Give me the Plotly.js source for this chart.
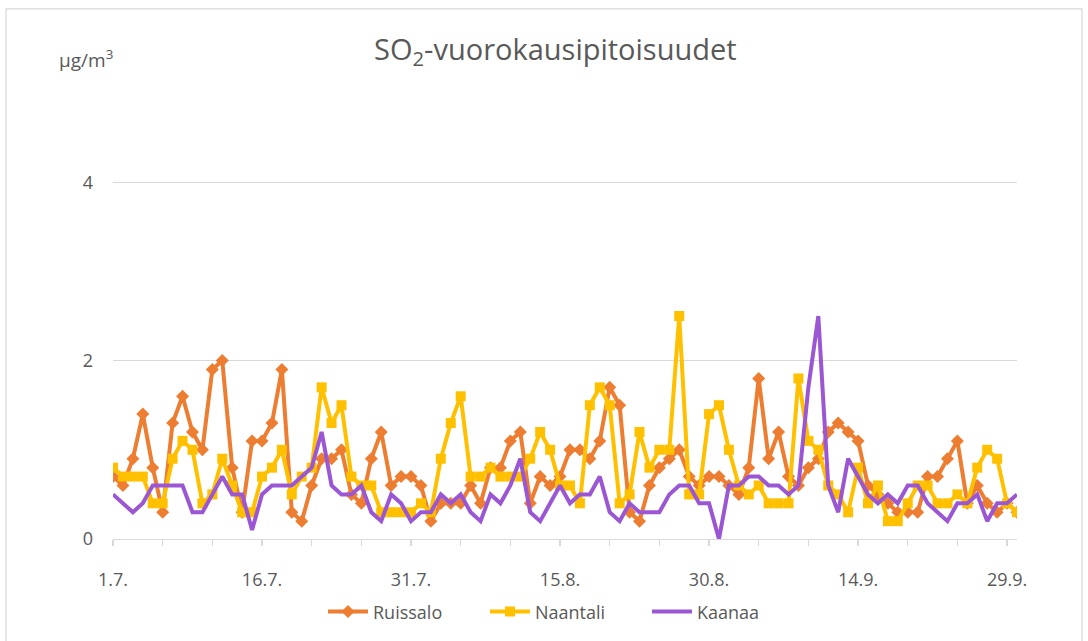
<!DOCTYPE html>
<html>
<head>
<meta charset="utf-8">
<script src="https://cdn.plot.ly/plotly-3.0.1.min.js"></script>
<style>html,body{margin:0;padding:0;background:#fff;}#chart{width:1088px;height:641px;}</style>
</head>
<body>
<div id="chart"></div>
<script>
// Daily dates 1.7. – 30.9.
const nDays = 92;
const dates = [];
for (let i = 0; i < nDays; i++) {
  const d = new Date(Date.UTC(2023, 6, 1 + i));
  dates.push(d.toISOString().slice(0, 10));
}

const seriesNames = ['Ruissalo', 'Naantali', 'Kaanaa'];

const ruissalo = [
  0.7, 0.6, 0.9, 1.4, 0.8, 0.3, 1.3, 1.6, 1.2, 1.0,
  1.9, 2.0, 0.8, 0.3, 1.1, 1.1, 1.3, 1.9, 0.3, 0.2,
  0.6, 0.9, 0.9, 1.0, 0.5, 0.4, 0.9, 1.2, 0.6, 0.7,
  0.7, 0.6, 0.2, 0.4, 0.4, 0.4, 0.6, 0.4, 0.8, 0.8,
  1.1, 1.2, 0.4, 0.7, 0.6, 0.7, 1.0, 1.0, 0.9, 1.1,
  1.7, 1.5, 0.3, 0.2, 0.6, 0.8, 0.9, 1.0, 0.7, 0.6,
  0.7, 0.7, 0.6, 0.5, 0.8, 1.8, 0.9, 1.2, 0.7, 0.6,
  0.8, 0.9, 1.2, 1.3, 1.2, 1.1, 0.6, 0.5, 0.4, 0.3,
  0.3, 0.3, 0.7, 0.7, 0.9, 1.1, 0.4, 0.6, 0.4, 0.3,
  0.4, 0.3
];

const naantali = [
  0.8, 0.7, 0.7, 0.7, 0.4, 0.4, 0.9, 1.1, 1.0, 0.4,
  0.5, 0.9, 0.6, 0.3, 0.3, 0.7, 0.8, 1.0, 0.5, 0.7,
  0.8, 1.7, 1.3, 1.5, 0.7, 0.6, 0.6, 0.3, 0.3, 0.3,
  0.3, 0.4, 0.3, 0.9, 1.3, 1.6, 0.7, 0.7, 0.8, 0.7,
  0.7, 0.7, 0.9, 1.2, 1.0, 0.6, 0.6, 0.4, 1.5, 1.7,
  1.5, 0.4, 0.5, 1.2, 0.8, 1.0, 1.0, 2.5, 0.5, 0.5,
  1.4, 1.5, 1.0, 0.6, 0.5, 0.6, 0.4, 0.4, 0.4, 1.8,
  1.1, 1.0, 0.6, 0.5, 0.3, 0.8, 0.4, 0.6, 0.2, 0.2,
  0.4, 0.6, 0.6, 0.4, 0.4, 0.5, 0.4, 0.8, 1.0, 0.9,
  0.4, 0.3
];

const kaanaa = [
  0.5, 0.4, 0.3, 0.4, 0.6, 0.6, 0.6, 0.6, 0.3, 0.3,
  0.5, 0.7, 0.5, 0.5, 0.1, 0.5, 0.6, 0.6, 0.6, 0.7,
  0.8, 1.2, 0.6, 0.5, 0.5, 0.6, 0.3, 0.2, 0.5, 0.4,
  0.2, 0.3, 0.3, 0.5, 0.4, 0.5, 0.3, 0.2, 0.5, 0.4,
  0.6, 0.9, 0.3, 0.2, 0.4, 0.6, 0.4, 0.5, 0.5, 0.7,
  0.3, 0.2, 0.4, 0.3, 0.3, 0.3, 0.5, 0.6, 0.6, 0.4,
  0.4, 0.0, 0.6, 0.6, 0.7, 0.7, 0.6, 0.6, 0.5, 0.6,
  1.7, 2.5, 0.6, 0.3, 0.9, 0.7, 0.5, 0.4, 0.5, 0.4,
  0.6, 0.6, 0.4, 0.3, 0.2, 0.4, 0.4, 0.5, 0.2, 0.4,
  0.4, 0.5
];

const yTicks = [0, 2, 4];
const yTickText = ['0', '2', '4'];

const FONT = 'Open Sans, Lato, sans-serif';
const GREY = '#595959';
const DAY = 86400000;

const traces = [
  {
    x: dates, y: ruissalo, name: seriesNames[0], type: 'scatter', mode: 'lines+markers',
    line: {color: '#ED7D31', width: 4},
    marker: {symbol: 'diamond', size: 10, color: '#ED7D31'}
  },
  {
    x: dates, y: naantali, name: seriesNames[1], type: 'scatter', mode: 'lines+markers',
    line: {color: '#FFC000', width: 4},
    marker: {symbol: 'square', size: 10, color: '#FFC000'}
  },
  {
    x: dates, y: kaanaa, name: seriesNames[2], type: 'scatter', mode: 'lines',
    line: {color: '#9B57D3', width: 4}
  }
];

const plotL = 113, plotR = 1017, plotT = 92.5, plotB = 540;
const pw = plotR - plotL, ph = plotB - plotT;
const px = v => (v - plotL) / pw;
const py = v => (plotB - v) / ph;

const layout = {
  width: 1088, height: 641,
  margin: {l: plotL, r: 1088 - plotR, t: plotT, b: 641 - plotB, pad: 0},
  paper_bgcolor: '#ffffff', plot_bgcolor: '#ffffff',
  font: {family: FONT, color: GREY, size: 18},
  showlegend: true,
  legend: {
    orientation: 'h', x: px(566), xanchor: 'center', xref: 'paper',
    y: py(612), yanchor: 'middle',
    font: {family: FONT, size: 18, color: GREY},
    itemwidth: 40, tracegroupgap: 0,
    entrywidth: 107, entrywidthmode: 'pixels'
  },
  xaxis: {
    type: 'date',
    range: [dates[0], dates[dates.length - 1]],
    tick0: dates[0], dtick: 15 * DAY, tickformat: '%-d.%-m.',
    showgrid: false, zeroline: false,
    showline: true, linecolor: '#d9d9d9', linewidth: 1.3,
    ticks: 'outside', ticklen: 6, tickcolor: '#d9d9d9', tickwidth: 1.3,
    ticklabelstandoff: 18,
    tickfont: {family: FONT, size: 18, color: GREY},
    minor: {dtick: 5 * DAY, tick0: dates[0], ticks: 'outside', ticklen: 6, tickcolor: '#d9d9d9', tickwidth: 1.3, showgrid: false},
    fixedrange: true
  },
  yaxis: {
    range: [0, 5],
    tickvals: yTicks, ticktext: yTickText,
    showgrid: true, gridcolor: '#d9d9d9', gridwidth: 1.3,
    zeroline: false, showline: false,
    ticks: '', ticklabelstandoff: 19,
    tickfont: {family: FONT, size: 18, color: GREY},
    fixedrange: true
  },
  annotations: [
    {
      text: 'SO<sub>2</sub>-vuorokausipitoisuudet',
      xref: 'paper', yref: 'paper', x: px(555), y: py(50),
      xanchor: 'center', yanchor: 'middle', showarrow: false,
      font: {family: FONT, size: 29, color: GREY}
    },
    {
      text: 'µg/m<sup>3</sup>',
      xref: 'paper', yref: 'paper', x: px(57), y: py(58),
      xanchor: 'left', yanchor: 'middle', showarrow: false,
      font: {family: FONT, size: 19, color: GREY}
    }
  ],
  shapes: [
    {
      type: 'rect', xref: 'paper', yref: 'paper',
      x0: px(6), x1: px(1082), y0: py(660), y1: py(8),
      line: {color: '#d9d9d9', width: 1.3}, fillcolor: 'rgba(0,0,0,0)', layer: 'below'
    }
  ]
};

Plotly.newPlot('chart', traces, layout, {displayModeBar: false, staticPlot: true});
</script>
</body>
</html>
